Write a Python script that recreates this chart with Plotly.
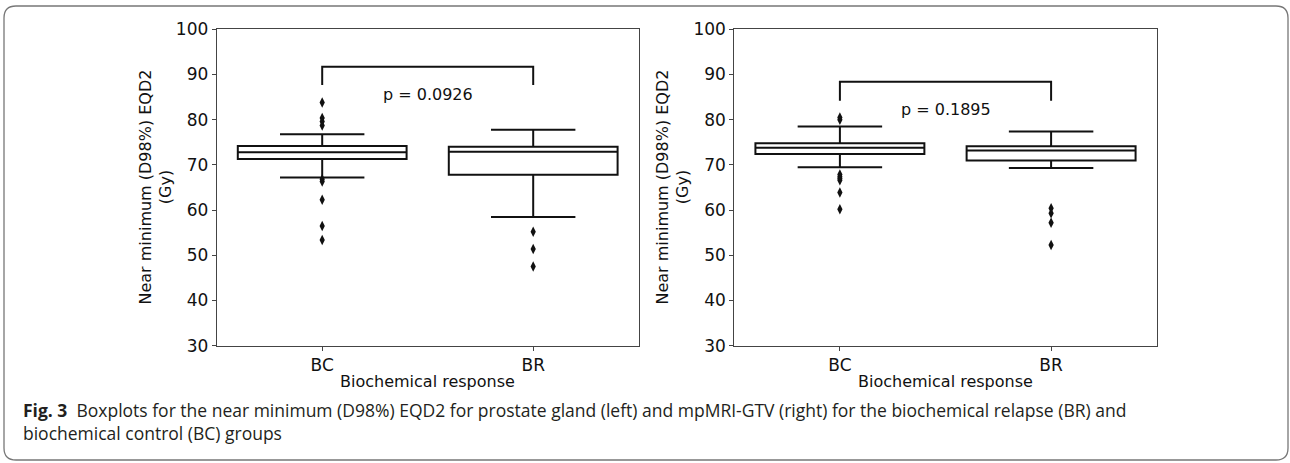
import plotly.graph_objects as go

W, H = 1290, 463

# ---------------- data ----------------
categories = ["BC", "BR"]

# left panel: prostate gland
left_q1 = [71.3, 67.8]
left_median = [72.8, 72.9]
left_q3 = [74.2, 74.0]
left_lower = [67.2, 58.5]
left_upper = [76.8, 77.8]
left_out_bc = [83.8, 80.4, 79.6, 78.7, 66.8, 66.3, 62.3, 56.5, 53.4]
left_out_br = [55.2, 51.4, 47.5]
left_bracket = [87.7, 91.7]
left_p_y = 85.6
left_p_text = "p = 0.0926"

# right panel: mpMRI-GTV
right_q1 = [72.4, 71.0]
right_median = [73.8, 73.2]
right_q3 = [74.8, 74.1]
right_lower = [69.5, 69.3]
right_upper = [78.5, 77.4]
right_out_bc = [80.5, 80.0, 67.9, 67.4, 67.0, 66.6, 63.9, 60.2]
right_out_br = [60.4, 59.3, 57.2, 52.3]
right_bracket = [84.2, 88.4]
right_p_y = 82.2
right_p_text = "p = 0.1895"

y_ticks = [30, 40, 50, 60, 70, 80, 90, 100]
y_title = "Near minimum (D98%) EQD2<br>(Gy)"
x_title = "Biochemical response"
caption_1 = ("<b>Fig. 3</b>  Boxplots for the near minimum (D98%) EQD2 for prostate gland (left) "
             "and mpMRI-GTV (right) for the biochemical relapse (BR) and")
caption_2 = "biochemical control (BC) groups"

# ---------------- helpers ----------------
def px(x):
    return x / W

def py(y):
    return 1 - y / H

MPL = "DejaVu Sans"
fig = go.Figure()

panels = [
    dict(xa="x", ya="y", q1=left_q1, med=left_median, q3=left_q3, lo=left_lower, hi=left_upper,
         obc=left_out_bc, obr=left_out_br, br=left_bracket, pty=left_p_y, pt=left_p_text),
    dict(xa="x2", ya="y2", q1=right_q1, med=right_median, q3=right_q3, lo=right_lower, hi=right_upper,
         obc=right_out_bc, obr=right_out_br, br=right_bracket, pty=right_p_y, pt=right_p_text),
]

for p in panels:
    fig.add_trace(go.Box(
        x=categories, q1=p["q1"], median=p["med"], q3=p["q3"],
        lowerfence=p["lo"], upperfence=p["hi"],
        boxpoints=False, width=0.8, whiskerwidth=0.5,
        fillcolor="white", line=dict(color="#111111", width=2),
        xaxis=p["xa"], yaxis=p["ya"], showlegend=False, hoverinfo="skip"))
    ox = [categories[0]] * len(p["obc"]) + [categories[1]] * len(p["obr"])
    oy = p["obc"] + p["obr"]
    fig.add_trace(go.Scatter(
        x=ox, y=oy, mode="markers",
        marker=dict(symbol="diamond-tall", size=7.5, color="#111111"),
        xaxis=p["xa"], yaxis=p["ya"], showlegend=False, hoverinfo="skip"))
    lo, hi = p["br"]
    fig.add_trace(go.Scatter(
        x=[categories[0], categories[0], categories[1], categories[1]],
        y=[lo, hi, hi, lo], mode="lines",
        line=dict(color="#111111", width=2),
        xaxis=p["xa"], yaxis=p["ya"], showlegend=False, hoverinfo="skip"))
    fig.add_annotation(x=0.5, y=p["pty"], xref=p["xa"], yref=p["ya"], text=p["pt"],
                       showarrow=False, font=dict(family=MPL, size=16, color="#111111"),
                       xanchor="center", yanchor="middle")

axis_common = dict(showline=True, mirror=True, linecolor="#444444", linewidth=1,
                   ticks="outside", ticklen=4, tickcolor="#444444", showgrid=False,
                   zeroline=False, automargin=False,
                   tickfont=dict(family=MPL, size=17, color="#111111"))

xl0, xl1 = 216.7, 638.7
xr0, xr1 = 734.3, 1156.7
yt, yb = 29.3, 345.7

fig.update_layout(
    template="none",
    width=W, height=H, autosize=False,
    margin=dict(l=0, r=0, t=0, b=0, pad=0, autoexpand=False),
    paper_bgcolor="white", plot_bgcolor="white",
    xaxis=dict(domain=[px(xl0), px(xl1)], anchor="y", type="category",
               categoryorder="array", categoryarray=categories, range=[-0.5, 1.5], **axis_common),
    yaxis=dict(domain=[py(yb), py(yt)], anchor="x", range=[30, 100], tickvals=y_ticks, **axis_common),
    xaxis2=dict(domain=[px(xr0), px(xr1)], anchor="y2", type="category",
                categoryorder="array", categoryarray=categories, range=[-0.5, 1.5], **axis_common),
    yaxis2=dict(domain=[py(yb), py(yt)], anchor="x2", range=[30, 100], tickvals=y_ticks, **axis_common),
)

# axis titles
for cx in [155, 672]:
    fig.add_annotation(x=px(cx), y=py((yt + yb) / 2), xref="paper", yref="paper", text=y_title,
                       textangle=-90, showarrow=False, xanchor="center", yanchor="middle",
                       font=dict(family=MPL, size=16, color="#111111"))
for cx in [(xl0 + xl1) / 2, (xr0 + xr1) / 2]:
    fig.add_annotation(x=px(cx), y=py(381.7), xref="paper", yref="paper", text=x_title,
                       showarrow=False, xanchor="center", yanchor="middle",
                       font=dict(family=MPL, size=16, color="#111111"))

# caption (two lines in one text block)
cap_font = dict(family="Open Sans", size=17.5, color="#231f20")
fig.add_annotation(x=px(21), y=py(421.7), xref="paper", yref="paper",
                   text=caption_1 + "<br>" + caption_2, align="left",
                   showarrow=False, xanchor="left", yanchor="middle", font=cap_font)

# rounded frame
x0, x1, y0, y1, r = 4, 1288, 6, 460, 12
def P(x, y):
    return f"{px(x):.6f},{py(y):.6f}"
path = (f"M {P(x0 + r, y0)} L {P(x1 - r, y0)} Q {P(x1, y0)} {P(x1, y0 + r)} "
        f"L {P(x1, y1 - r)} Q {P(x1, y1)} {P(x1 - r, y1)} "
        f"L {P(x0 + r, y1)} Q {P(x0, y1)} {P(x0, y1 - r)} "
        f"L {P(x0, y0 + r)} Q {P(x0, y0)} {P(x0 + r, y0)} Z")
fig.add_shape(type="path", path=path, xref="paper", yref="paper",
              line=dict(color="#777777", width=1.3), fillcolor="rgba(0,0,0,0)", layer="below")

fig.write_html("out.html")
